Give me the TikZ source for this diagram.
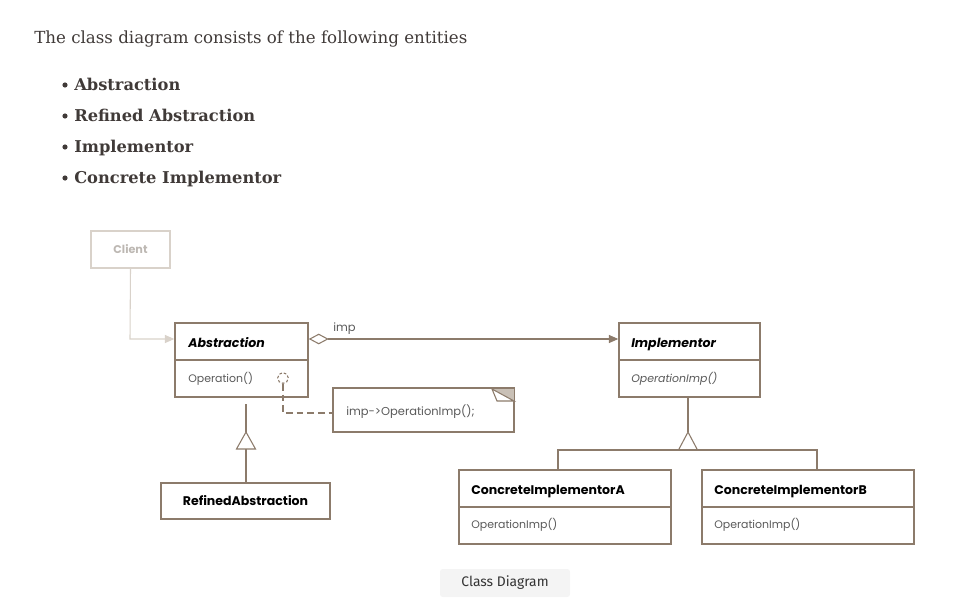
\documentclass[tikz,border=0pt]{standalone}
\usepackage{fontspec}
\setmainfont{DejaVu Serif}
\newfontfamily\diag{Poppins}
\newfontfamily\capfont{Fira Sans}
\usetikzlibrary{arrows.meta}
\definecolor{bordc}{HTML}{8C7B6B}
\definecolor{clientc}{HTML}{D9D2CA}
\definecolor{clienttxt}{HTML}{BDB8B3}
\definecolor{headc}{HTML}{403A38}
\definecolor{bodyc}{HTML}{5A5A5A}
\definecolor{notefold}{HTML}{C9C0B6}
\definecolor{capbg}{HTML}{F4F4F4}
\tikzset{
  cls/.style={draw=bordc, line width=1.1pt, rectangle, inner sep=0pt, fill=white},
  ttl/.style={anchor=base west, inner sep=0pt, font=\diag\bfseries\fontsize{9.4pt}{10pt}\selectfont, text=black},
  ttli/.style={ttl, font=\diag\bfseries\itshape\fontsize{9.4pt}{10pt}\selectfont},
  opr/.style={anchor=base west, inner sep=0pt, font=\diag\fontsize{8.2pt}{9pt}\selectfont, text=bodyc},
  conn/.style={draw=bordc, line width=0.8pt},
  head/.style={anchor=base west, inner sep=0pt, text=headc},
}
\begin{document}
\begin{tikzpicture}[x=0.75pt,y=-0.75pt]
\useasboundingbox (0,0) rectangle (962,614);
% header text
\node[head, font=\fontsize{12.5pt}{14pt}\selectfont] (intro) at (34,43) {The class diagram consists of the following entities};
\foreach \t/\yy [count=\i] in {Abstraction/90,Refined Abstraction/121,Implementor/152,Concrete Implementor/183}{
  \node[head, font=\bfseries\fontsize{12.2pt}{14pt}\selectfont] (item\i) at (74,\yy) {\t};
  \fill[headc] (65,\yy-5) circle (2.6);
}
% boxes
\node[draw=clientc, line width=1.1pt, rectangle, inner sep=0pt, minimum width=59.25pt, minimum height=27.75pt,
      font=\diag\bfseries\fontsize{8.4pt}{9pt}\selectfont, text=clienttxt] (client) at (130.5,249.5) {Client};
\node[cls, minimum width=99.75pt, minimum height=55.5pt] (abs) at (241.5,360) {};
\node[cls, minimum width=105.75pt, minimum height=55.5pt] (impl) at (689.5,360) {};
\node[cls, minimum width=159pt, minimum height=55.5pt] (cia) at (565,507) {};
\node[cls, minimum width=159pt, minimum height=55.5pt] (cib) at (808,507) {};
\node[cls, minimum width=126.75pt, minimum height=27pt, font=\diag\bfseries\fontsize{9.4pt}{10pt}\selectfont] (ref) at (245.5,501) {RefinedAbstraction};
\node[cls, minimum width=135.75pt, minimum height=33pt] (note) at (423.5,410) {};
% dividers
\draw[draw=bordc, line width=0.8pt] (abs.west |- 0,360) -- (abs.east |- 0,360);
\draw[draw=bordc, line width=0.8pt] (impl.west |- 0,360) -- (impl.east |- 0,360);
\draw[draw=bordc, line width=0.8pt] (cia.west |- 0,507) -- (cia.east |- 0,507);
\draw[draw=bordc, line width=0.8pt] (cib.west |- 0,507) -- (cib.east |- 0,507);
% texts
\node[ttli] (absT) at (188,347) {Abstraction};
\node[opr] (absO) at (188,382) {Operation()};
\node[ttli] (implT) at (631,347) {Implementor};
\node[opr, font=\diag\itshape\fontsize{8.2pt}{9pt}\selectfont] (implO) at (631,382) {OperationImp()};
\node[ttl] (ciaT) at (471,494) {ConcreteImplementorA};
\node[opr] (ciaO) at (471,528) {OperationImp()};
\node[ttl] (cibT) at (714,494) {ConcreteImplementorB};
\node[opr] (cibO) at (714,528) {OperationImp()};
\node[opr, font=\diag\fontsize{8.6pt}{9pt}\selectfont] (noteT) at (346,415) {imp->OperationImp();};
% note fold
\fill[notefold] (492,389) -- (514,389) -- (514,401) -- cycle;
\draw[draw=bordc, line width=0.8pt, fill=white] (492,389) -- (497,401) -- (514,401) -- cycle;
\draw[cls, fill=none] (note.north west) rectangle (note.south east);
% client connector
\coordinate (cbend) at (130,339);
\draw[draw=clientc, line width=0.8pt, -{Triangle[length=7pt,width=6pt]}] (client.south) -- (cbend) -- (abs.west |- cbend);
% aggregation
\coordinate (aggy) at (0,339);
\draw[conn, {Diamond[open,fill=white,length=15pt,width=8pt]}-{Triangle[length=7pt,width=6pt]}] (abs.east |- aggy) -- (impl.west |- aggy);
\node[anchor=base west, inner sep=0pt, font=\diag\fontsize{8.6pt}{9pt}\selectfont, text=bodyc] (imp) at (333,331) {imp};
% dashed note link
\node[draw=bordc, dashed, dash pattern=on 2pt off 1.5pt, line width=0.8pt, circle, inner sep=0pt, minimum size=8pt] (dot) at (283,378) {};
\coordinate (nb) at (283,413);
\draw[conn, dash pattern=on 5pt off 3pt] (dot.south) -- (nb) -- (note.west |- nb);
% inheritance abs
\coordinate (refTop) at (246,404);
\coordinate (refApex) at (246,432);
\draw[conn] (refTop) -- (refApex);
\draw[conn, fill=white] (refApex) -- (236.5,449) -- (255.5,449) -- cycle;
\draw[conn] (246,449) -- (ref.north -| 246,0);
% inheritance impl
\coordinate (impApex) at (688,432);
\draw[conn] (impl.south -| impApex) -- (impApex);
\draw[conn, fill=white] (impApex) -- (678.5,450) -- (697.5,450) -- cycle;
\coordinate (hl) at (558,450);
\coordinate (hr) at (817,450);
\draw[conn] (cia.north -| hl) -- (hl) -- (hr) -- (cib.north -| hr);
% caption
\node[fill=capbg, rounded corners=2pt, minimum width=97.5pt, minimum height=21pt, inner sep=0pt,
      font=\capfont\fontsize{10.4pt}{12pt}\selectfont, text=black!80] (cap) at (505,583) {Class Diagram};
\end{tikzpicture}
\end{document}
